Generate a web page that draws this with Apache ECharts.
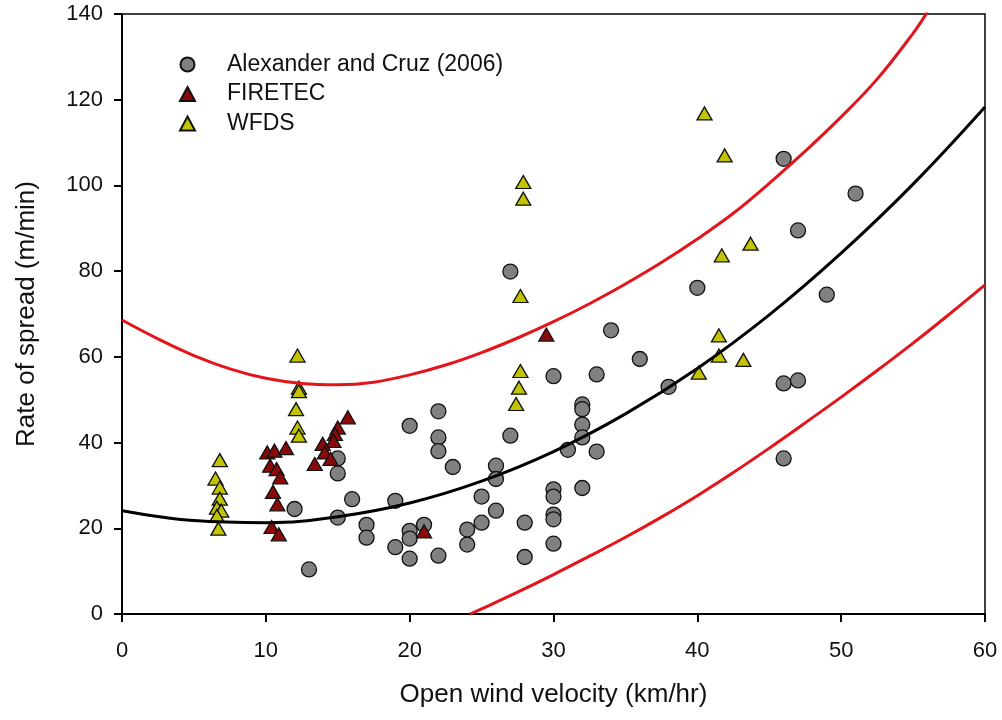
<!DOCTYPE html>
<html>
<head>
<meta charset="utf-8">
<title>Rate of spread vs open wind velocity</title>
<script src="https://cdn.jsdelivr.net/npm/echarts@6/dist/echarts.min.js"></script>
<style>
  html, body { margin: 0; padding: 0; background: #fff; }
  #chart { width: 1002px; height: 720px; }
</style>
</head>
<body>
<div id="chart"></div>
<script>
// observed points [wind, ros]
const alexanderCruz = [
  [12, 24.5], [13, 10.4], [15, 36.3], [15, 32.8], [15, 22.5], [16, 26.8],
  [17, 20.8], [17, 17.8], [19, 26.4], [19, 15.6], [20, 43.9], [20, 19.4],
  [20, 17.6], [20, 12.9], [21, 20.8], [22, 47.3], [22, 41.2], [22, 38.0],
  [22, 13.6], [23, 34.3], [24, 19.7], [24, 16.2], [25, 27.4], [25, 21.3],
  [26, 34.6], [26, 31.5], [26, 24.1], [27, 79.9], [27, 41.6], [28, 21.3],
  [28, 13.3], [30, 55.5], [30, 29.1], [30, 27.4], [30, 23.2], [30, 22.1],
  [30, 16.4], [31, 38.3], [32, 48.9], [32, 47.8], [32, 44.2], [32, 41.2],
  [32, 29.4], [33, 55.9], [33, 37.9], [34, 66.2], [36, 59.5], [38, 53.0],
  [40, 76.1], [46, 106.2], [46, 53.8], [46, 36.3], [47, 89.5], [47, 54.5],
  [49, 74.5], [51, 98.1]
];
const firetec = [
  [10.1, 37.7], [10.6, 38.1], [11.4, 38.7], [10.3, 34.6], [10.75, 33.8],
  [11.0, 31.9], [10.5, 28.5], [10.8, 25.6], [10.4, 20.3], [10.9, 18.6],
  [15.7, 45.9], [15.0, 43.5], [14.8, 42.0], [14.7, 40.4], [13.95, 39.7],
  [14.1, 37.7], [14.5, 36.2], [13.4, 35.0], [21.0, 19.3], [29.5, 65.2]
];
const wfds = [
  [6.8, 35.9], [6.5, 31.6], [6.8, 29.5], [6.8, 26.9], [6.6, 24.8], [6.9, 24.1],
  [6.6, 22.9], [6.7, 19.9],
  [12.2, 60.3], [12.3, 52.8], [12.3, 52.0], [12.1, 47.8], [12.2, 43.5], [12.3, 41.6],
  [27.9, 100.8], [27.9, 96.9], [27.7, 74.2], [27.7, 56.7], [27.6, 52.8], [27.4, 49.0],
  [40.5, 116.8], [41.9, 107.0], [43.7, 86.4], [41.7, 83.7], [41.5, 65.0],
  [41.5, 60.3], [43.2, 59.3], [40.1, 56.3]
];

// fitted curve and prediction limits
const fitX = [0, 5, 10, 15, 20, 25, 30, 35, 40, 45, 50, 55, 60];
const fitY = [24.1, 21.8, 21.3, 22.7, 25.9, 31.0, 37.9, 46.7, 57.3, 69.8, 84.2, 100.3, 118.3];

const upperX = [0, 2.5, 5, 7.5, 10, 12.5, 15, 17.5, 20, 22.5, 25, 27.5, 30, 32.5, 35, 37.5, 40, 42.5, 45, 47.5, 50, 52.5, 55, 56];
const upperY = [68.6, 64.2, 60.3, 57.2, 55.0, 53.8, 53.5, 54.1, 55.8, 58.1, 61.0, 64.4, 68.2, 72.4, 77.0, 82.0, 87.5, 93.5, 100.5, 108.0, 116.0, 124.8, 135.5, 140.5];

const lowerX = [24.2, 25, 27.5, 30, 32.5, 35, 37.5, 40, 42.5, 45, 47.5, 50, 52.5, 55, 57.5, 60];
const lowerY = [0, 1.2, 5.1, 9.2, 13.5, 17.9, 22.6, 27.6, 33.0, 38.7, 44.6, 50.6, 56.8, 63.2, 69.9, 76.8];

const xTicks = { min: 0, max: 60, interval: 10 };
const yTicks = { min: 0, max: 140, interval: 20 };

const font = '"Liberation Sans", Arial, sans-serif';

function zipXY(xs, ys) {
  const out = [];
  for (let i = 0; i < xs.length; i++) {
    out.push([xs[i], ys[i]]);
  }
  return out;
}

const myChart = echarts.init(document.getElementById('chart'), null, { renderer: 'canvas' });

const option = {
  animation: false,
  backgroundColor: '#fff',
  grid: {
    left: 122,
    right: 17,
    top: 14,
    bottom: 106,
    show: true,
    borderColor: '#000',
    borderWidth: 1.5,
  },
  legend: {
    orient: 'vertical',
    left: 174,
    top: 48,
    itemWidth: 15,
    itemHeight: 14,
    itemGap: 6.5,
    data: ['Alexander and Cruz (2006)', 'FIRETEC', 'WFDS'],
    formatter: function (name) {
      return '{t|' + name + '}';
    },
    textStyle: {
      rich: {
        t: {
          fontFamily: font,
          fontSize: 23,
          color: '#111',
          lineHeight: 24,
          padding: [0, 0, 0, 27],
        },
      },
    },
  },
  xAxis: {
    type: 'value',
    min: xTicks.min,
    max: xTicks.max,
    interval: xTicks.interval,
    name: 'Open wind velocity (km/hr)',
    nameLocation: 'middle',
    nameGap: 68,
    nameTextStyle: { fontFamily: font, fontSize: 26, color: '#111' },
    axisLine: { show: true, lineStyle: { color: '#000', width: 2 } },
    axisTick: { show: true, inside: false, length: 8, lineStyle: { color: '#000', width: 2 } },
    axisLabel: { fontFamily: font, fontSize: 22, color: '#111', margin: 26 },
    splitLine: { show: false },
  },
  yAxis: {
    type: 'value',
    min: yTicks.min,
    max: yTicks.max,
    interval: yTicks.interval,
    name: 'Rate of spread (m/min)',
    nameLocation: 'middle',
    nameGap: 82,
    nameTextStyle: { fontFamily: font, fontSize: 26, color: '#111' },
    axisLine: { show: true, lineStyle: { color: '#000', width: 2 } },
    axisTick: { show: true, inside: false, length: 8, lineStyle: { color: '#000', width: 2 } },
    axisLabel: { fontFamily: font, fontSize: 22, color: '#111', margin: 19 },
    splitLine: { show: false },
  },
  series: [
    {
      type: 'line',
      data: zipXY(upperX, upperY),
      smooth: 0.4,
      symbol: 'none',
      silent: true,
      lineStyle: { color: '#e3151b', width: 3 },
    },
    {
      type: 'line',
      data: zipXY(lowerX, lowerY),
      smooth: 0.4,
      symbol: 'none',
      silent: true,
      lineStyle: { color: '#e3151b', width: 3 },
    },
    {
      type: 'line',
      data: zipXY(fitX, fitY),
      smooth: 0.4,
      symbol: 'none',
      silent: true,
      lineStyle: { color: '#000', width: 3 },
    },
    {
      name: 'Alexander and Cruz (2006)',
      type: 'scatter',
      symbol: 'circle',
      symbolSize: 15,
      data: alexanderCruz,
      itemStyle: { color: '#808080', borderColor: '#111', borderWidth: 1.3, opacity: 1 },
    },
    {
      name: 'FIRETEC',
      type: 'scatter',
      symbol: 'triangle',
      symbolSize: [15, 13],
      data: firetec,
      itemStyle: { color: '#8a0a0a', borderColor: '#111', borderWidth: 1.3, opacity: 1 },
    },
    {
      name: 'WFDS',
      type: 'scatter',
      symbol: 'triangle',
      symbolSize: [15, 13],
      data: wfds,
      itemStyle: { color: '#c2c400', borderColor: '#111', borderWidth: 1.3, opacity: 1 },
    },
  ],
};

myChart.setOption(option);
window.addEventListener('resize', myChart.resize);
</script>
</body>
</html>
